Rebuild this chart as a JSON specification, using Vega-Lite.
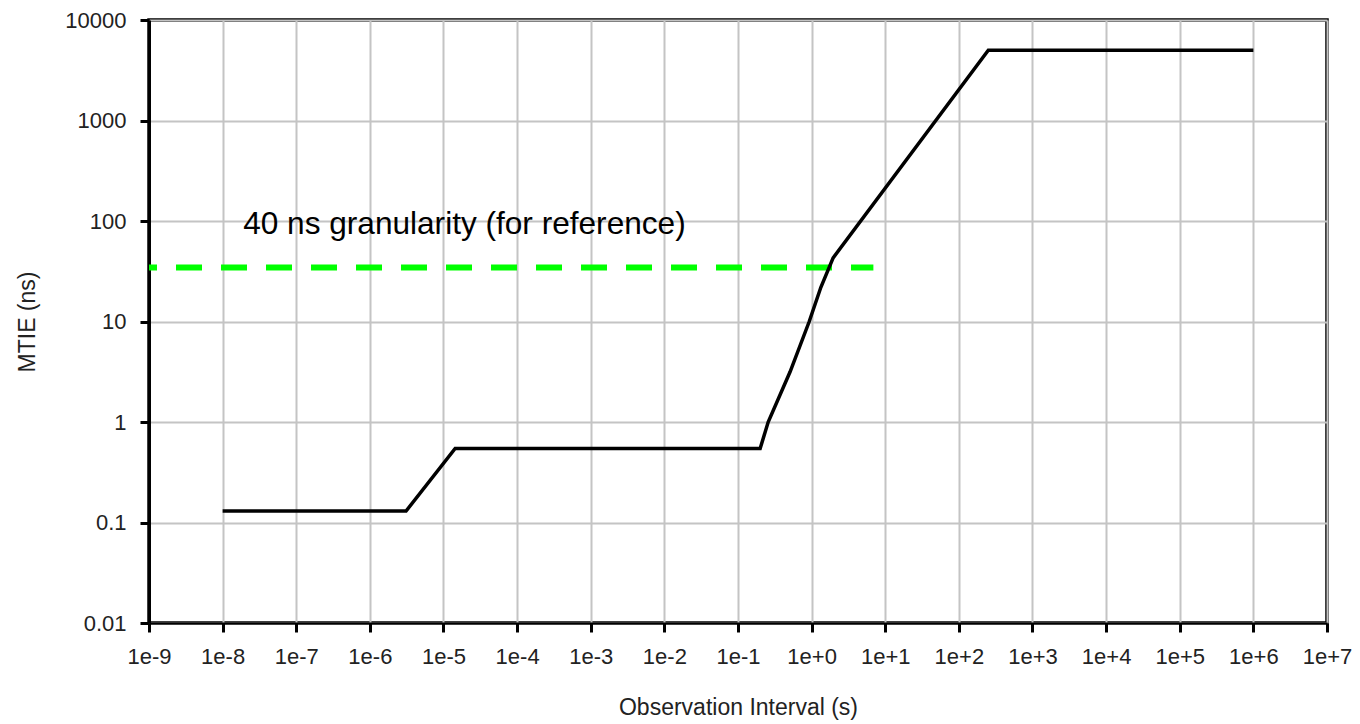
{
  "$schema": "https://vega.github.io/schema/vega-lite/v6.json",
  "width": 1178,
  "height": 603,
  "autosize": {"type": "none"},
  "padding": {"left": 149, "top": 20, "right": 33, "bottom": 101},
  "background": "white",
  "config": {
    "font": "Liberation Sans",
    "view": {"stroke": "black", "strokeWidth": 3.5},
    "axis": {
      "grid": true,
      "gridColor": "#c4c4c4",
      "gridWidth": 2,
      "domainColor": "black",
      "tickColor": "black",
      "tickWidth": 3,
      "tickSize": 9,
      "labelFont": "Liberation Sans",
      "labelFontSize": 22,
      "labelColor": "#222",
      "titleFont": "Liberation Sans",
      "titleFontSize": 23,
      "titleFontWeight": "normal",
      "titleColor": "#222",
      "labelFlush": false,
      "labelOverlap": false,
      "labelBound": false
    }
  },
  "datasets": {
    "mtie": [
      {"tau": 1e-8, "mtie": 0.13},
      {"tau": 3.1e-6, "mtie": 0.13},
      {"tau": 1.44e-5, "mtie": 0.545},
      {"tau": 0.2, "mtie": 0.545},
      {"tau": 0.257, "mtie": 1},
      {"tau": 0.51, "mtie": 3.16},
      {"tau": 0.928, "mtie": 10},
      {"tau": 1.335, "mtie": 21.9},
      {"tau": 1.96, "mtie": 43},
      {"tau": 251, "mtie": 5000},
      {"tau": 1000000, "mtie": 5000}
    ],
    "granularity": [
      {"tau": 1e-9, "mtie": 34.5},
      {"tau": 6.9, "mtie": 34.5}
    ],
    "label": [
      {"tau": 1.9e-8, "mtie": 75, "text": "40 ns granularity (for reference)"}
    ]
  },
  "layer": [
    {
      "data": {"name": "granularity"},
      "mark": {"type": "line", "color": "#00ff00", "strokeWidth": 6, "strokeDash": [26, 19], "strokeDashOffset": 18, "strokeCap": "butt"},
      "encoding": {
        "x": {
          "field": "tau", "type": "quantitative",
          "scale": {"type": "log", "domain": [1e-9, 10000000], "nice": false},
          "axis": {
            "title": "Observation Interval (s)",
            "values": [1e-9, 1e-8, 1e-7, 1e-6, 1e-5, 1e-4, 1e-3, 1e-2, 1e-1, 1, 10, 100, 1000, 10000, 100000, 1000000, 10000000],
            "labelExpr": "'1e' + (round(log(datum.value)/LN10) >= 0 ? '+' : '') + round(log(datum.value)/LN10)",
            "domainWidth": 2,
            "labelPadding": 14,
            "titlePadding": 29
          }
        },
        "y": {
          "field": "mtie", "type": "quantitative",
          "scale": {"type": "log", "domain": [0.01, 10000], "nice": false},
          "axis": {
            "title": "MTIE (ns)",
            "values": [0.01, 0.1, 1, 10, 100, 1000, 10000],
            "format": "~g",
            "domainWidth": 3,
            "labelPadding": 14,
            "titlePadding": 25
          }
        }
      }
    },
    {
      "data": {"name": "mtie"},
      "mark": {"type": "line", "color": "black", "strokeWidth": 3.5},
      "encoding": {
        "x": {"field": "tau", "type": "quantitative"},
        "y": {"field": "mtie", "type": "quantitative"}
      }
    },
    {
      "data": {"name": "label"},
      "mark": {"type": "text", "align": "left", "baseline": "alphabetic", "fontSize": 31.6, "font": "Liberation Sans", "color": "black"},
      "encoding": {
        "x": {"field": "tau", "type": "quantitative"},
        "y": {"field": "mtie", "type": "quantitative"},
        "text": {"field": "text"}
      }
    }
  ]
}
